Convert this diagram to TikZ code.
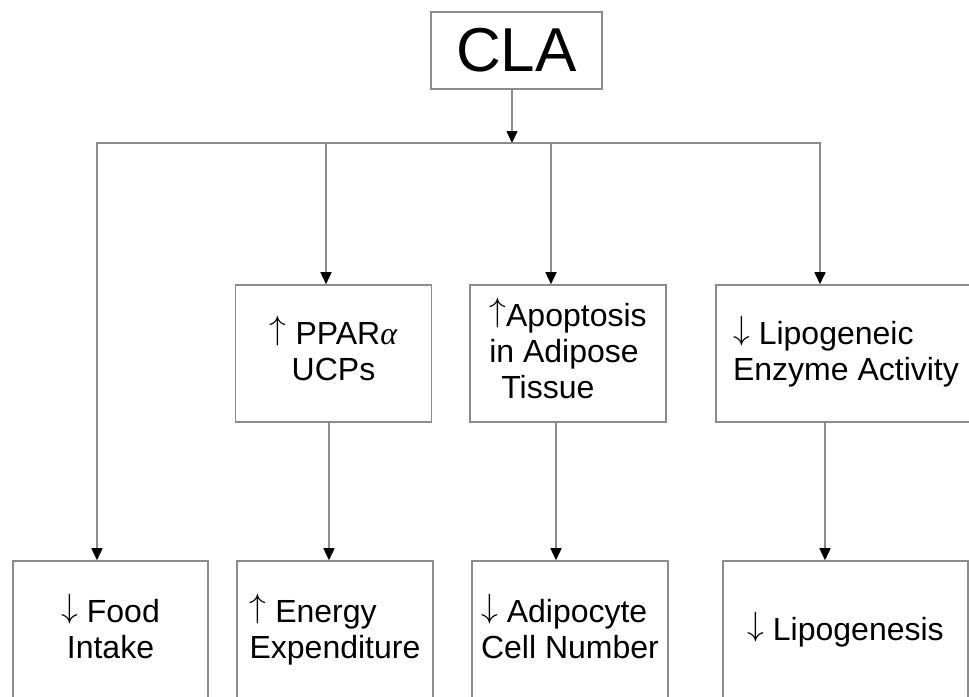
\documentclass[tikz,border=0pt]{standalone}
\usepackage{fontspec}
\setmainfont{Liberation Sans}
\newfontfamily\greekfont{Liberation Serif}
\usepackage{graphicx}
\usepackage{xcolor}
\usetikzlibrary{positioning}
\usetikzlibrary{arrows.meta}
\definecolor{linegray}{HTML}{8C8C8C}
\newcommand{\up}{\raisebox{5pt}{\scalebox{1.35}{$\uparrow$}}}
\newcommand{\down}{\raisebox{5pt}{\scalebox{1.35}{$\downarrow$}}}
\tikzset{fxbox/.style={draw=linegray, line width=1.6pt, inner sep=0pt,
font=\fontsize{32}{36}\selectfont, minimum width=196pt, text=black},
fxwire/.style={draw=linegray, line width=1.6pt, line cap=rect},
fxlink/.style={draw=linegray, line width=1.6pt,
-{Triangle[length=12pt, width=11pt, color=black]}}}
\begin{document}
\begin{tikzpicture}[x=1pt, y=1pt, midrow/.style={fxbox, minimum height=137pt},
lowrow/.style={fxbox, minimum height=142pt}]
\useasboundingbox (0,0) rectangle (969,-696);
\node[fxbox, minimum width=171pt, minimum height=77pt, font=\fontsize{62}{70}\selectfont] (cla) at (516.5,-50.5) {CLA};
% middle row
\node[midrow, align=center] (ppar) at (333.5,-353.5) {\strut\up\ PPAR{\greekfont\itshape α}\\UCPs\strut};
\node[midrow, align=left] (apop) at (568,-353.5) {\strut\up Apoptosis\\in Adipose\\\hspace*{12pt}Tissue\strut};
\node[midrow, align=left, minimum width=260pt] (lipo) at (846,-353.5) {\strut\down\ Lipogeneic\\Enzyme Activity\strut};
% bottom row
\node[lowrow, align=center, minimum width=195pt] (food) at (110.5,-632) {\strut\down\ Food\\Intake\strut};
\node[lowrow, align=left] (energy) at (335,-632) {\strut\up\ Energy\\Expenditure\strut};
\node[lowrow, align=left] (adipo) at (570,-632) {\strut\down\ Adipocyte\\Cell Number\strut};
\node[lowrow, align=left, minimum width=245pt] (lipog) at (845.5,-632) {\strut\down\ Lipogenesis};
\coordinate (bus) at (512,-143);
\coordinate (b1) at (97,-143);
\coordinate (b2) at (326,-143);
\coordinate (b3) at (551,-143);
\coordinate (b4) at (820,-143);
\draw[fxlink] (cla.south -| bus) -- (bus);
\draw[fxwire] (b1) -- (b4);
\draw[fxlink] (b1) -- (b1 |- food.north);
\draw[fxlink] (b2) -- (b2 |- ppar.north);
\draw[fxlink] (b3) -- (b3 |- apop.north);
\draw[fxlink] (b4) -- (b4 |- lipo.north);
\draw[fxlink] ([xshift=-4.5pt]ppar.south) -- ([xshift=-4.5pt]ppar.south |- energy.north);
\draw[fxlink] ([xshift=-12pt]apop.south) -- ([xshift=-12pt]apop.south |- adipo.north);
\draw[fxlink] ([xshift=-21pt]lipo.south) -- ([xshift=-21pt]lipo.south |- lipog.north);
\end{tikzpicture}
\end{document}
